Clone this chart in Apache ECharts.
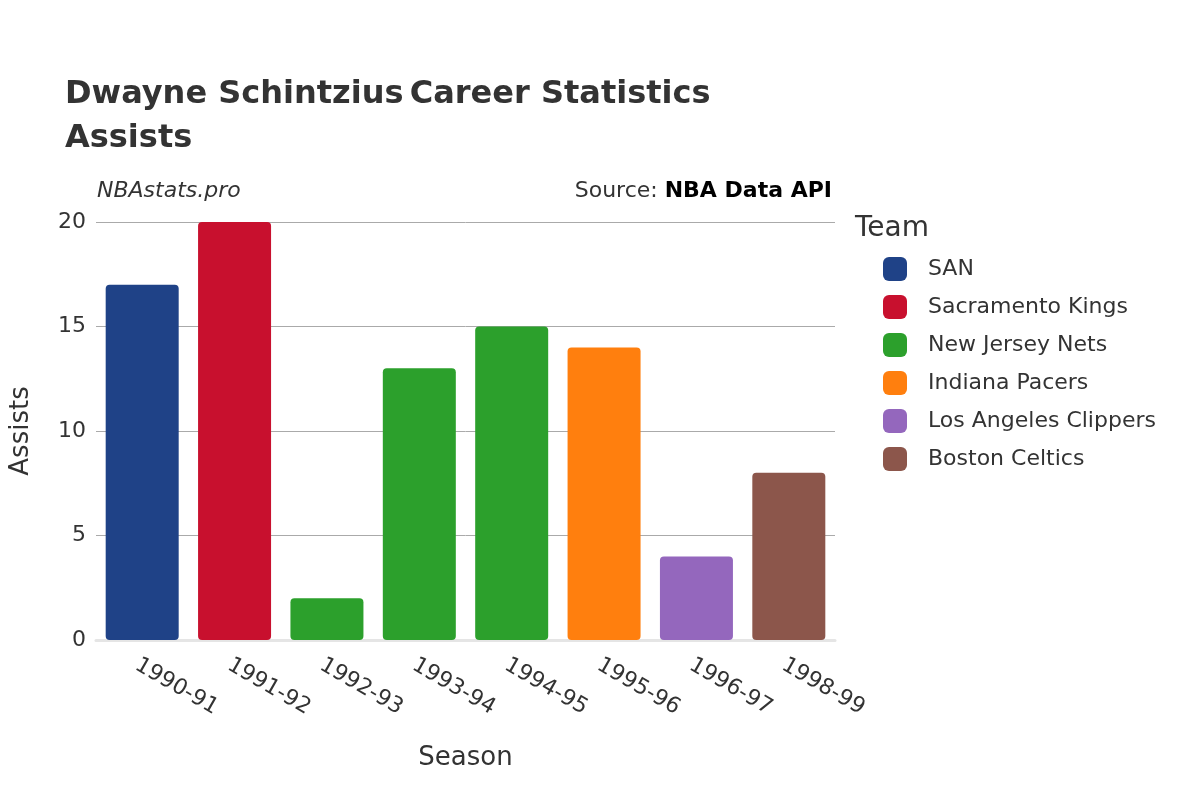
<!DOCTYPE html>
<html><head><meta charset="utf-8">
<script src="https://cdn.jsdelivr.net/npm/echarts@6/dist/echarts.min.js"></script>
<style>html,body{margin:0;padding:0;background:#fff}#c{width:1200px;height:800px}</style>
</head><body><div id="c"></div>
<script>
const seasons = ["1990-91","1991-92","1992-93","1993-94","1994-95","1995-96","1996-97","1998-99"];
const teams = ["SAN","Sacramento Kings","New Jersey Nets","Indiana Pacers","Los Angeles Clippers","Boston Celtics"];
const colors = ["#1f4287","#c8102e","#2ca02c","#ff7f0e","#9467bd","#8c564b"];
const seasonTeam = [0,1,2,2,2,3,4,5];
const assists = [17,20,2,13,15,14,4,8];
const yTicks = [0,5,10,15,20];

const chart = echarts.init(document.getElementById('c'));
const series = teams.map((t,ti)=>({
  name:t, type:'bar', stack:'s', barWidth:73,
  itemStyle:{color:colors[ti], borderRadius:4},
  data: assists.map((v,i)=> seasonTeam[i]===ti ? v : '-')
}));
const F = 'DejaVu Sans';
chart.setOption({
  textStyle:{fontFamily:F},
  title:{left:60, top:68, text:'{b|Dwayne Schintzius} {r|Career Statistics}\n{r|Assists}',
    textStyle:{rich:{b:{fontFamily:F,fontWeight:'bold',fontSize:32,color:'#333',lineHeight:44},r:{fontFamily:F,fontSize:32,color:'#333',lineHeight:44}}}},
  graphic:[
    {type:'text',left:97,top:180,style:{text:'NBAstats.pro',font:'italic 22px "DejaVu Sans"',fill:'#333'}},
    {type:'text',right:368,top:180,style:{text:'{a|Source: }{b|NBA Data API}',rich:{a:{fontFamily:F,fontSize:22,fill:'#333',color:'#333'},b:{fontFamily:F,fontSize:22,fontWeight:'bold',color:'#333'}}}}
  ],
  legend:{orient:'vertical',left:878,top:252,itemWidth:24,itemHeight:24,itemGap:14,
    icon:'roundRect',textStyle:{fontSize:22,color:'#333',padding:[0,0,0,16]},data:teams},
  grid:{left:95,right:365,top:222,bottom:160},
  xAxis:{type:'category',data:seasons,name:'Season',nameLocation:'middle',nameGap:105,
    nameTextStyle:{fontSize:26,color:'#333'},
    axisLine:{show:true,lineStyle:{color:'#e5e5e5',width:3}},axisTick:{show:false},
    axisLabel:{rotate:-30,fontSize:22,color:'#333',margin:14,align:'left',verticalAlign:'top'}},
  yAxis:{type:'value',min:0,max:20,interval:5,name:'Assists',nameLocation:'middle',nameGap:62,
    nameTextStyle:{fontSize:26,color:'#333'},
    axisLabel:{fontSize:22,color:'#333',margin:10},
    splitLine:{lineStyle:{color:'#aaa',width:1}}},
  series
});
chart.setOption({graphic:chart.getOption().graphic.concat([])});
</script>
<div style="position:absolute;left:855px;top:210px;font:28px 'DejaVu Sans';color:#333">Team</div>
</body></html>
